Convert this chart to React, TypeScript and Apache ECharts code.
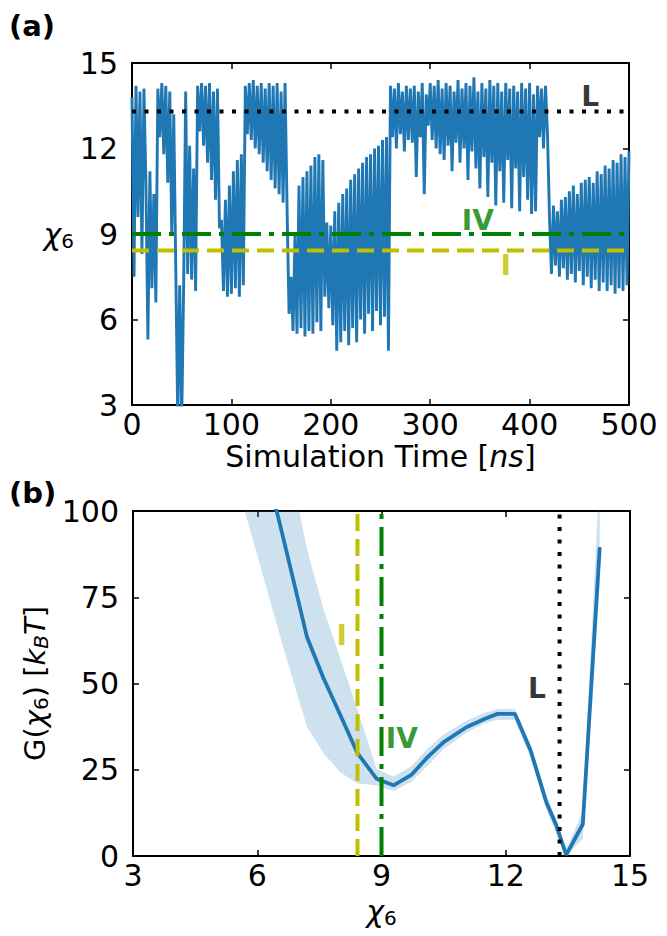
import React, { useEffect, useRef } from 'react';
import * as echarts from 'echarts';

// (a) chi_6 trace, one sample every 2 ns from 0 to 500 ns
const timeStep = 2;
const chiTrace = [
  13.8, 7.5, 14.2, 9.6, 14.0, 8.3, 14.1, 10.8, 5.3, 11.2,
  7.1, 10.4, 6.6, 14.1, 12.4, 14.3, 11.8, 14.2, 10.8, 14.0,
  9.0, 13.2, 7.9, 2.6, 7.2, 2.4, 7.3, 14.0, 7.6, 12.1,
  7.4, 11.3, 7.0, 14.2, 12.6, 14.3, 12.1, 14.2, 11.5, 14.3,
  10.9, 14.0, 10.2, 14.1, 9.2, 9.5, 7.0, 10.2, 6.8, 10.7,
  6.9, 11.2, 7.1, 11.6, 6.8, 11.8, 7.2, 14.2, 12.5, 14.3,
  12.3, 14.4, 12.0, 14.2, 11.8, 14.3, 11.5, 14.1, 11.2, 14.3,
  10.9, 14.2, 10.6, 14.3, 10.4, 14.0, 10.1, 14.3, 9.9, 6.2,
  7.5, 5.6, 9.0, 5.5, 10.7, 5.7, 11.0, 5.4, 11.2, 5.6,
  11.4, 5.5, 11.7, 5.9, 11.8, 5.6, 11.6, 6.8, 9.4, 6.4,
  9.3, 5.8, 9.8, 4.9, 10.1, 5.2, 10.4, 5.6, 10.6, 5.1,
  10.9, 5.7, 11.1, 5.2, 11.3, 6.0, 11.5, 5.5, 11.7, 6.2,
  11.8, 5.6, 12.0, 6.3, 12.1, 5.8, 12.3, 6.1, 12.4, 4.9,
  14.2, 12.4, 14.1, 12.0, 14.3, 12.5, 14.0, 11.9, 14.2, 12.3,
  14.1, 12.2, 14.2, 11.0, 14.0, 12.4, 14.3, 10.4, 13.9, 12.8,
  14.3, 12.3, 14.2, 12.0, 14.4, 11.8, 14.1, 11.6, 14.3, 12.1,
  14.2, 11.2, 14.0, 12.2, 14.4, 11.5, 14.1, 12.0, 14.3, 10.9,
  14.2, 11.9, 14.5, 11.3, 14.0, 10.6, 14.3, 11.7, 14.1, 10.3,
  14.4, 11.5, 14.2, 10.0, 14.3, 11.2, 14.0, 10.1, 14.3, 11.6,
  14.1, 9.9, 14.2, 11.3, 14.0, 9.8, 14.3, 11.0, 14.1, 10.2,
  14.3, 9.7, 13.9, 9.8, 14.2, 12.4, 14.1, 12.0, 14.2, 12.5,
  9.6, 7.6, 10.0, 7.9, 9.8, 7.5, 10.2, 7.8, 10.3, 7.4,
  10.5, 7.6, 10.7, 7.3, 10.4, 7.7, 10.8, 7.2, 10.9, 7.5,
  11.0, 7.1, 10.8, 7.4, 11.2, 7.0, 11.1, 7.3, 11.4, 7.0,
  11.3, 7.2, 11.6, 6.9, 11.5, 7.1, 11.8, 7.0, 11.7, 7.2,
  11.9,
];

// reference states (chi_6 values)
const chiL = 13.3;
const chiIV = 9.0;
const chiI = 8.42;

// (b) free energy profile G(chi_6) with its uncertainty band
const freeX = [5.6, 6.1, 6.6, 7.2, 7.6, 8.0, 8.42, 8.88, 9.29, 9.72, 10.1, 10.5, 11.06, 11.5, 11.8, 12.22, 12.6, 12.98, 13.22, 13.46, 13.86, 14.27];
const freeG = [143, 118, 93.6, 63.5, 51.5, 41, 29.8, 22.4, 20.5, 23.5, 28.5, 33, 37.4, 39.8, 41.2, 41.2, 30.6, 15.6, 8.9, 0.3, 9.2, 89.5];
const freeLo = [104, 83, 61.7, 37.5, 29.8, 24.3, 21.0, 20.5, 18.8, 21.5, 26, 31, 35.8, 38.5, 39.5, 39.5, 28.5, 13.5, 6.5, 0, 5, 80];
const freeHi = [175, 150, 125, 89, 71.5, 57.5, 42.5, 25.3, 23, 26, 31, 35.2, 39.3, 41.5, 42.6, 42.6, 32.5, 17.5, 10.5, 2, 13, 112];

const font = 'DejaVu Sans';
const blue = '#1f77b4';
const green = '#008000';
const olive = '#bfbf00';

export default function App() {
  const ref = useRef<HTMLDivElement>(null);
  useEffect(() => {
    if (!ref.current) return;
    const chart = echarts.init(ref.current, undefined, { renderer: 'svg' });

    const frame = { show: true, onZero: false, lineStyle: { color: '#000', width: 2 } };
    const ticks = { show: true, inside: true, length: 6, lineStyle: { color: '#000', width: 1.5 } };
    const tickLabel = { color: '#000', fontFamily: font, fontSize: 30, lineHeight: 28 };
    const chiRich = {
      c: { fontFamily: font, fontSize: 30, fontStyle: 'italic', color: '#000', lineHeight: 34 },
      s: { fontFamily: font, fontSize: 20, color: '#000', lineHeight: 20, verticalAlign: 'bottom' },
    };
    const mark = (color: string) => ({ fontFamily: font, fontSize: 28, fontWeight: 'bold', color });

    chart.setOption({
      animation: false,
      backgroundColor: '#fff',
      grid: [
        { left: 132, top: 63, width: 497, height: 342 },
        { left: 133, top: 511, width: 497, height: 345 },
      ],
      xAxis: [
        {
          gridIndex: 0, type: 'value', min: 0, max: 500, interval: 100,
          axisLine: frame, axisTick: ticks, splitLine: { show: false },
          axisLabel: { ...tickLabel, margin: 5 },
          name: '{r|Simulation Time [}{i|ns}{r|]}', nameLocation: 'middle', nameGap: 37,
          nameTextStyle: {
            rich: {
              r: { fontFamily: font, fontSize: 30, color: '#000', lineHeight: 28 },
              i: { fontFamily: font, fontSize: 30, color: '#000', fontStyle: 'italic', lineHeight: 28 },
            },
          },
        },
        {
          gridIndex: 0, type: 'value', position: 'top', min: 0, max: 500, interval: 100,
          axisLine: frame, axisTick: ticks, axisLabel: { show: false }, splitLine: { show: false },
        },
        {
          gridIndex: 1, type: 'value', min: 3, max: 15, interval: 3,
          axisLine: frame, axisTick: ticks, splitLine: { show: false },
          axisLabel: { ...tickLabel, margin: 5 },
          name: '{c|χ}{s|6}', nameLocation: 'middle', nameGap: 38,
          nameTextStyle: { rich: chiRich },
        },
        {
          gridIndex: 1, type: 'value', position: 'top', min: 3, max: 15, interval: 3,
          axisLine: frame, axisTick: ticks, axisLabel: { show: false }, splitLine: { show: false },
        },
      ],
      yAxis: [
        {
          gridIndex: 0, type: 'value', min: 3, max: 15, interval: 3,
          axisLine: frame, axisTick: ticks, splitLine: { show: false },
          axisLabel: { ...tickLabel, margin: 14 },
          name: '{c|χ}{s|6}', nameLocation: 'middle', nameRotate: 0, nameGap: 52,
          nameTextStyle: { rich: chiRich },
        },
        {
          gridIndex: 0, type: 'value', position: 'right', min: 3, max: 15, interval: 3,
          axisLine: frame, axisTick: ticks, axisLabel: { show: false }, splitLine: { show: false },
        },
        {
          gridIndex: 1, type: 'value', min: 0, max: 100, interval: 25,
          axisLine: frame, axisTick: ticks, splitLine: { show: false },
          axisLabel: { ...tickLabel, margin: 14 },
          name: '{r|G(}{c|χ}{s|6}{r|) [}{i|k}{si|B}{i|T}{r|]}',
          nameLocation: 'middle', nameRotate: 90, nameGap: 76,
          nameTextStyle: {
            rich: {
              r: { fontFamily: font, fontSize: 29, color: '#000', lineHeight: 32 },
              i: { fontFamily: font, fontSize: 29, color: '#000', fontStyle: 'italic', lineHeight: 32 },
              c: { fontFamily: font, fontSize: 29, color: '#000', fontStyle: 'italic', lineHeight: 32 },
              s: { fontFamily: font, fontSize: 20, color: '#000', lineHeight: 20, verticalAlign: 'bottom' },
              si: { fontFamily: font, fontSize: 20, color: '#000', fontStyle: 'italic', lineHeight: 20, verticalAlign: 'bottom' },
            },
          },
        },
        {
          gridIndex: 1, type: 'value', position: 'right', min: 0, max: 100, interval: 25,
          axisLine: frame, axisTick: ticks, axisLabel: { show: false }, splitLine: { show: false },
        },
      ],
      graphic: [
        { type: 'text', left: 9, top: 11, style: { text: '(a)', fontFamily: font, fontSize: 29, fontWeight: 'bold', fill: '#000' } },
        { type: 'text', left: 9, top: 478, style: { text: '(b)', fontFamily: font, fontSize: 29, fontWeight: 'bold', fill: '#000' } },
      ],
      series: [
        {
          type: 'line', xAxisIndex: 0, yAxisIndex: 0, z: 2, silent: true,
          data: chiTrace.map((v, i) => [i * timeStep, v]),
          showSymbol: false, lineStyle: { color: blue, width: 2.9 },
        },
        {
          type: 'line', xAxisIndex: 0, yAxisIndex: 0, z: 3, silent: true, showSymbol: false,
          data: [[0, chiL], [500, chiL]],
          lineStyle: { color: '#000', width: 4, type: [4, 8.5] },
        },
        {
          type: 'line', xAxisIndex: 0, yAxisIndex: 0, z: 3, silent: true, showSymbol: false,
          data: [[0, chiIV], [500, chiIV]],
          lineStyle: { color: green, width: 4, type: [29, 8, 5, 8] },
        },
        {
          type: 'line', xAxisIndex: 0, yAxisIndex: 0, z: 3, silent: true, showSymbol: false,
          data: [[0, chiI], [500, chiI]],
          lineStyle: { color: olive, width: 4, type: [17, 8] },
        },
        {
          type: 'scatter', xAxisIndex: 0, yAxisIndex: 0, z: 4, silent: true, symbolSize: 1,
          itemStyle: { color: 'transparent' },
          data: [
            { value: [461, 13.82], label: { show: true, position: 'inside', formatter: 'L', ...mark('#000') } },
            { value: [348, 9.49], label: { show: true, position: 'inside', formatter: 'IV', ...mark(green) } },
            { value: [376, 7.91], label: { show: true, position: 'inside', formatter: 'I', ...mark(olive) } },
          ],
        },
        {
          type: 'custom', xAxisIndex: 2, yAxisIndex: 2, z: 1, silent: true, clip: true,
          data: [[freeX[0], freeLo[0]]],
          renderItem: (_params: any, api: any) => {
            const upper = freeX.map((x, i) => api.coord([x, freeHi[i]]));
            const lower = freeX.map((x, i) => api.coord([x, freeLo[i]])).reverse();
            return {
              type: 'polygon',
              shape: { points: upper.concat(lower) },
              style: { fill: 'rgba(31,119,180,0.22)', stroke: 'none' },
            };
          },
        },
        {
          type: 'line', xAxisIndex: 2, yAxisIndex: 2, z: 2, silent: true, showSymbol: false,
          data: freeX.map((x, i) => [x, freeG[i]]),
          lineStyle: { color: blue, width: 3.8 },
        },
        {
          type: 'line', xAxisIndex: 2, yAxisIndex: 2, z: 3, silent: true, showSymbol: false,
          data: [[chiI, 0], [chiI, 100]],
          lineStyle: { color: olive, width: 4, type: [17, 8] },
        },
        {
          type: 'line', xAxisIndex: 2, yAxisIndex: 2, z: 3, silent: true, showSymbol: false,
          data: [[chiIV, 0], [chiIV, 100]],
          lineStyle: { color: green, width: 4, type: [29, 8, 5, 8] },
        },
        {
          type: 'line', xAxisIndex: 2, yAxisIndex: 2, z: 3, silent: true, showSymbol: false,
          data: [[chiL, 0], [chiL, 100]],
          lineStyle: { color: '#000', width: 4, type: [4, 8.5] },
        },
        {
          type: 'scatter', xAxisIndex: 2, yAxisIndex: 2, z: 4, silent: true, symbolSize: 1,
          itemStyle: { color: 'transparent' },
          data: [
            { value: [12.75, 48.5], label: { show: true, position: 'inside', formatter: 'L', ...mark('#000') } },
            { value: [9.49, 34], label: { show: true, position: 'inside', formatter: 'IV', ...mark(green) } },
            { value: [8.04, 63.8], label: { show: true, position: 'inside', formatter: 'I', ...mark(olive) } },
          ],
        },
      ],
    });
    return () => chart.dispose();
  }, []);
  return <div ref={ref} style={{ position: 'absolute', left: 0, top: 0, width: 667, height: 936 }} />;
}
